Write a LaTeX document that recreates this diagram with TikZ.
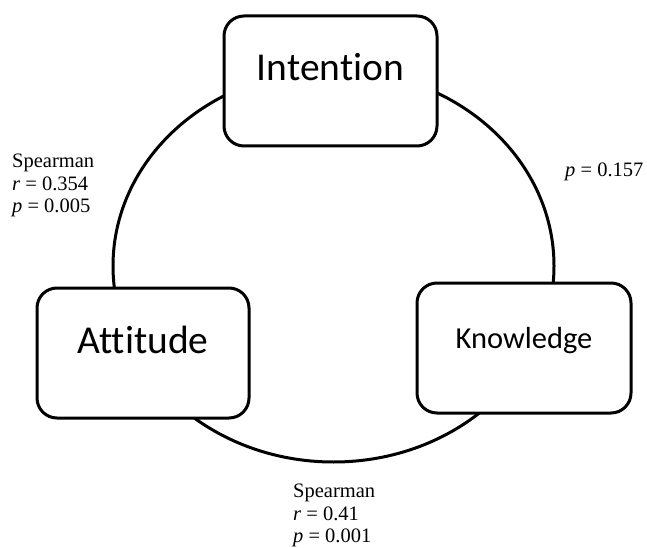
\documentclass[tikz,border=0pt]{standalone}
\usepackage{fontspec}
\setmainfont{Liberation Serif}
\newfontfamily\boxfont[Ligatures={NoCommon,NoContextual}]{Carlito}

\begin{document}
\begin{tikzpicture}[x=1pt,y=-1pt]
            \tikzstyle{construct}=[draw,fill=white,rounded corners=20pt,line width=3pt,inner sep=0pt,minimum width=213pt,text height=65pt,text depth=65pt]
            \tikzstyle{stat}=[anchor=north west,align=left,inner sep=0pt,font=\fontsize{20.5}{22.5}\selectfont]

            \useasboundingbox (0,0) rectangle (647,548);

            \draw[line width=3pt] (333.5,266) ellipse [x radius=220.5, y radius=196];

            \node (I) at (330.5,81) [construct,font=\boxfont\fontsize{39.5}{40}\selectfont] {Intention};
            \node (A) at (143,353) [construct,minimum width=212pt,font=\boxfont\fontsize{39.5}{40}\selectfont] {Attitude};
            \node (K) at (524,348) [construct,minimum width=214pt,font=\boxfont\fontsize{30.5}{31}\selectfont] {Knowledge};

            \node (AI) at (12,154) [stat] {Spearman\\\textit{r} = 0.354\\\textit{p} = 0.005};
            \node (IK) at (565,163) [stat] {\textit{p} = 0.157};
            \node (AK) at (293,484) [stat] {Spearman\\\textit{r} = 0.41\\\textit{p} = 0.001};
          \end{tikzpicture}
\end{document}
